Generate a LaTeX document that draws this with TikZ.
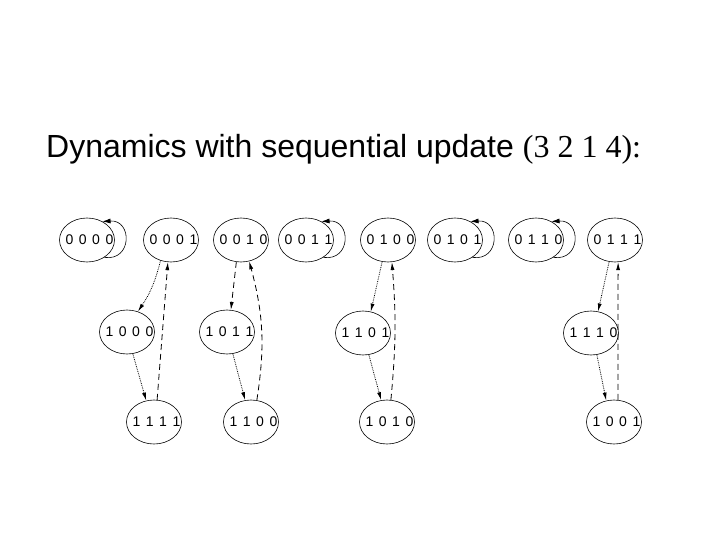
\documentclass[tikz,border=0pt]{standalone}
\usepackage{fontspec}
\setmainfont{Liberation Serif}
\setsansfont{Liberation Sans}
\usetikzlibrary{arrows.meta, shapes.geometric}

\newcommand{\bitlabel}[1]{\makebox[0pt]{\hspace*{5pt}#1}}
\tikzset{
	statenode/.style={ellipse, draw, line width=0.6pt, minimum width=55pt, minimum height=44pt, inner sep=0pt, font={\sffamily\fontsize{14}{16}\selectfont\spaceskip=5.5pt\relax}},
	dotedge/.style={densely dotted, line width=0.8pt, -{Latex[length=8pt,width=4pt]}},
	dashedge/.style={dash pattern=on 6pt off 4pt, line width=0.8pt, -{Latex[length=8pt,width=4pt]}},
	selfloop/.style={line width=0.6pt, -{Latex[length=8pt,width=5pt]}},
}

\begin{document}
\begin{tikzpicture}[x=1pt, y=-1pt]
	\useasboundingbox (0,0) rectangle (720,540);
	% Title:
	\node[anchor=base west, inner sep=0pt](T) at (46,158){\sffamily\fontsize{32}{38}\selectfont Dynamics with sequential update \rmfamily(3 2 1 4):};
	% States, top row:
	\node[statenode](N0000) at (87,240){\bitlabel{0 0 0 0}};
	\node[statenode](N0001) at (171,240){\bitlabel{0 0 0 1}};
	\node[statenode](N0010) at (241,240){\bitlabel{0 0 1 0}};
	\node[statenode](N0011) at (306,240){\bitlabel{0 0 1 1}};
	\node[statenode](N0100) at (388,240){\bitlabel{0 1 0 0}};
	\node[statenode](N0101) at (455,240){\bitlabel{0 1 0 1}};
	\node[statenode](N0110) at (536,240){\bitlabel{0 1 1 0}};
	\node[statenode](N0111) at (615,240){\bitlabel{0 1 1 1}};
	% States, middle row:
	\node[statenode](N1000) at (127,332){\bitlabel{1 0 0 0}};
	\node[statenode](N1011) at (227,332){\bitlabel{1 0 1 1}};
	\node[statenode](N1101) at (363,333){\bitlabel{1 1 0 1}};
	\node[statenode](N1110) at (591,333){\bitlabel{1 1 1 0}};
	% States, bottom row:
	\node[statenode](N1111) at (154,422){\bitlabel{1 1 1 1}};
	\node[statenode](N1100) at (251,422){\bitlabel{1 1 0 0}};
	\node[statenode](N1010) at (387,422){\bitlabel{1 0 1 0}};
	\node[statenode](N1001) at (614,422){\bitlabel{1 0 0 1}};
	% Fixed points:
	\draw[selfloop] (N0000.-45) .. controls +(28,4) and +(30,-2) .. (N0000.50);
	\draw[selfloop] (N0011.-45) .. controls +(28,4) and +(30,-2) .. (N0011.50);
	\draw[selfloop] (N0101.-45) .. controls +(28,4) and +(30,-2) .. (N0101.50);
	\draw[selfloop] (N0110.-45) .. controls +(28,4) and +(30,-2) .. (N0110.50);
	% Cycles:
	\draw[dotedge] (N0001.-117) to[bend left=10] (N1000.62);
	\draw[dotedge] (N1000.-75) -- (N1111.110);
	\draw[dashedge] (N1111.82) -- (N0001.-98);
	\draw[dashedge] (N0010.-102) -- (N1011.80);
	\draw[dotedge] (N1011.-75) -- (N1100.105);
	\draw[dashedge] (N1100.75) to[bend right=12] (N0010.-69);
	\draw[dotedge] (N0100.-105) -- (N1101.70);
	\draw[dotedge] (N1101.-75) -- (N1010.105);
	\draw[dashedge] (N1010.80) to[bend right=5] (N0100.-80);
	\draw[dotedge] (N0111.-105) -- (N1110.72);
	\draw[dotedge] (N1110.-75) -- (N1001.110);
	\draw[dashedge] (N1001.80) -- (N0111.-82);
\end{tikzpicture}
\end{document}
